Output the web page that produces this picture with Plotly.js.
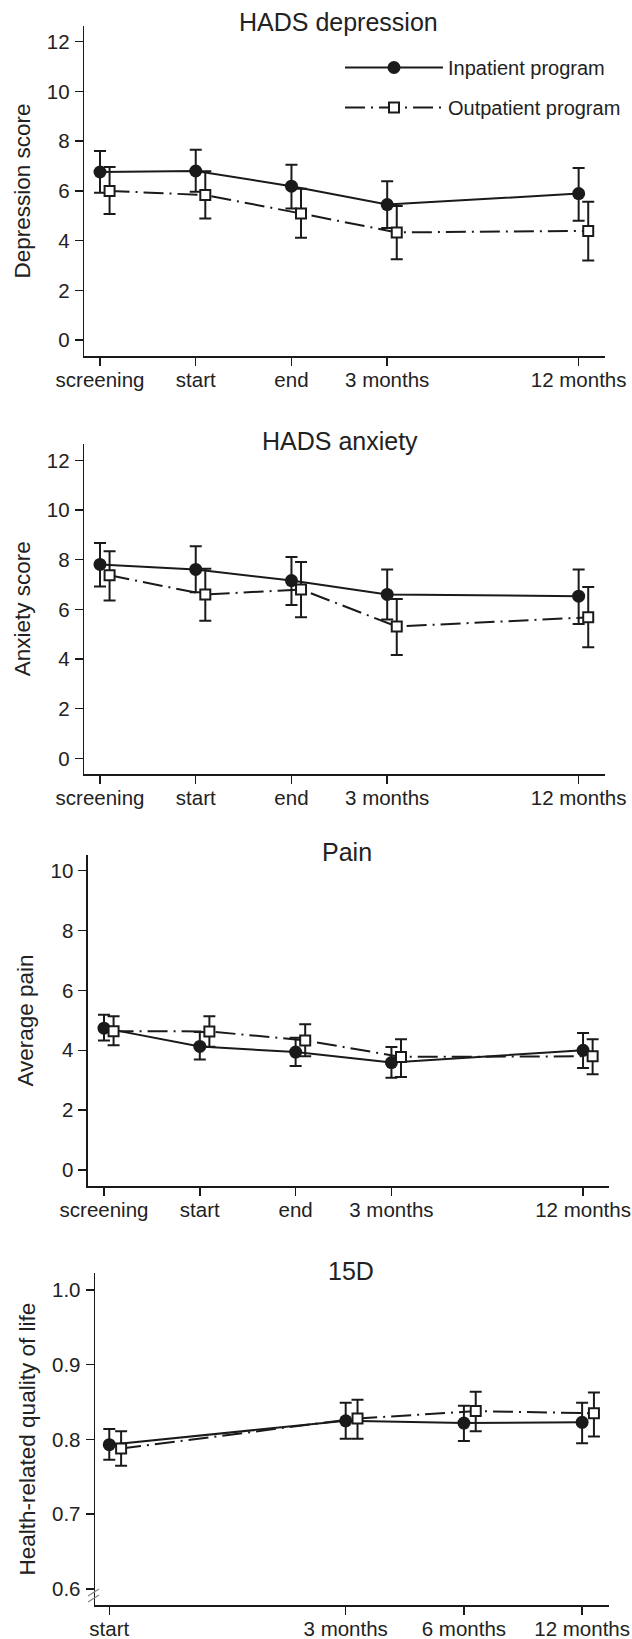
<!DOCTYPE html>
<html><head><meta charset="utf-8">
<script src="https://cdn.plot.ly/plotly-3.0.1.min.js"></script>
<style>html,body{margin:0;padding:0;background:#fff}#chart{width:632px;height:1639px}</style>
</head><body><div id="chart"></div>
<script>
// ---- data ----
const timeLabels = ["screening", "start", "end", "3 months", "12 months"];
const timePos = [0, 1, 2, 3, 5];
const qolLabels = ["start", "3 months", "6 months", "12 months"];
const qolPos = [0, 2, 3, 4];
const seriesNames = ["Inpatient program", "Outpatient program"];
const panelTitles = ["HADS depression", "HADS anxiety", "Pain", "15D"];
const yTitles = ["Depression score", "Anxiety score", "Average pain", "Health-related quality of life"];

const depIn = [6.76, 6.80, 6.19, 5.45, 5.89];
const depInLo = [5.92, 5.96, 5.29, 4.51, 4.80];
const depInHi = [7.60, 7.65, 7.05, 6.39, 6.92];
const depOut = [6.00, 5.83, 5.09, 4.33, 4.39];
const depOutLo = [5.07, 4.89, 4.12, 3.25, 3.20];
const depOutHi = [6.96, 6.79, 6.09, 5.39, 5.56];

const anxIn = [7.81, 7.61, 7.16, 6.60, 6.53];
const anxInLo = [6.92, 6.69, 6.18, 5.59, 5.41];
const anxInHi = [8.67, 8.54, 8.11, 7.61, 7.61];
const anxOut = [7.37, 6.60, 6.80, 5.31, 5.68];
const anxOutLo = [6.36, 5.54, 5.68, 4.16, 4.47];
const anxOutHi = [8.34, 7.64, 7.91, 6.42, 6.90];

const painIn = [4.74, 4.13, 3.94, 3.59, 4.00];
const painInLo = [4.33, 3.69, 3.48, 3.08, 3.41];
const painInHi = [5.19, 4.61, 4.42, 4.11, 4.58];
const painOut = [4.64, 4.63, 4.33, 3.78, 3.80];
const painOutLo = [4.17, 4.12, 3.80, 3.11, 3.20];
const painOutHi = [5.14, 5.14, 4.87, 4.37, 4.37];

const qolIn = [0.793, 0.825, 0.822, 0.823];
const qolInLo = [0.773, 0.801, 0.798, 0.795];
const qolInHi = [0.814, 0.849, 0.845, 0.849];
const qolOut = [0.788, 0.828, 0.838, 0.835];
const qolOutLo = [0.765, 0.801, 0.811, 0.804];
const qolOutHi = [0.811, 0.853, 0.864, 0.863];

// ---- helpers ----
const W = 632, H = 1639;
const INK = '#1a1a1a';
const FONT = 'Liberation Sans, Arial, Helvetica, sans-serif';
const px = v => v / W;
const py = v => 1 - v / H;
const OFFSET = 0.1;

function errs(v, lo, hi, width) {
  return {type: 'data', symmetric: false,
    array: hi.map((h, i) => h - v[i]),
    arrayminus: lo.map((l, i) => v[i] - l),
    color: INK, thickness: 2, width: width};
}

function pair(n, pos, vin, lo1, hi1, vout, lo2, hi2, legend) {
  const xa = n === 1 ? 'x' : 'x' + n, ya = n === 1 ? 'y' : 'y' + n;
  return [
    {x: pos, y: vin, xaxis: xa, yaxis: ya, name: seriesNames[0], type: 'scatter',
     mode: 'lines+markers', showlegend: legend, legendgroup: 'a',
     line: {color: INK, width: 2},
     marker: {symbol: 'circle', size: 13, color: INK},
     error_y: errs(vin, lo1, hi1, 6), hoverinfo: 'skip'},
    {x: pos.map(p => p + OFFSET), y: vout, xaxis: xa, yaxis: ya, name: seriesNames[1], type: 'scatter',
     mode: 'lines+markers', showlegend: legend, legendgroup: 'b',
     line: {color: INK, width: 2, dash: '20px,6px,2px,6px'},
     marker: {symbol: 'square', size: 10, color: '#ffffff', line: {color: INK, width: 2}},
     error_y: errs(vout, lo2, hi2, 6), hoverinfo: 'skip'}
  ];
}

const traces = [].concat(
  pair(1, timePos, depIn, depInLo, depInHi, depOut, depOutLo, depOutHi, true),
  pair(2, timePos, anxIn, anxInLo, anxInHi, anxOut, anxOutLo, anxOutHi, false),
  pair(3, timePos, painIn, painInLo, painInHi, painOut, painOutLo, painOutHi, false),
  pair(4, qolPos, qolIn, qolInLo, qolInHi, qolOut, qolOutLo, qolOutHi, false)
);

function xax(domain, range, vals, text) {
  return {domain: domain, range: range, tickvals: vals, ticktext: text,
    showline: true, linecolor: INK, linewidth: 1.5, mirror: false,
    ticks: 'outside', ticklen: 8, tickwidth: 1.5, tickcolor: INK,
    showgrid: false, zeroline: false, fixedrange: true,
    tickfont: {family: FONT, size: 20.5, color: '#222'}, ticklabelstandoff: -3};
}
function yax(domain, range, dtick, title, fmt) {
  return {domain: domain, range: range, tick0: 0, dtick: dtick,
    showline: true, linecolor: INK, linewidth: 1.5, mirror: false,
    ticks: 'outside', ticklen: 8, tickwidth: 1.5, tickcolor: INK,
    showgrid: false, zeroline: false, fixedrange: true, tickformat: fmt,
    tickfont: {family: FONT, size: 20.5, color: '#222'}, ticklabelstandoff: 1,
    title: {text: title, font: {family: FONT, size: 22.5, color: '#222'}, standoff: 10}};
}

const xd12 = [px(84.2), px(604.5)];
const xd3 = [px(87.9), px(609.3)];
const xd4 = [px(95.1), px(609.3)];

const layout = {
  width: W, height: H,
  margin: {l: 0, r: 0, t: 0, b: 0},
  paper_bgcolor: '#fff', plot_bgcolor: '#fff',
  font: {family: FONT, color: '#222'},
  showlegend: true,
  legend: {x: px(340), y: py(48), xanchor: 'left', yanchor: 'top',
    font: {family: FONT, size: 20, color: '#222'}, bgcolor: 'rgba(0,0,0,0)',
    tracegroupgap: 11, itemwidth: 98, traceorder: 'grouped'},
  xaxis: xax(xd12, [-0.165, 5.27], timePos, timeLabels),
  yaxis: yax([py(356), py(26)], [-0.64, 12.63], 2, yTitles[0], 'd'),
  xaxis2: Object.assign(xax(xd12, [-0.165, 5.27], timePos, timeLabels), {anchor: 'y2'}),
  yaxis2: Object.assign(yax([py(774), py(443.5)], [-0.63, 12.68], 2, yTitles[1], 'd'), {anchor: 'x2'}),
  xaxis3: Object.assign(xax(xd3, [-0.168, 5.274], timePos, timeLabels), {anchor: 'y3'}),
  yaxis3: Object.assign(yax([py(1186), py(855)], [-0.53, 10.52], 2, yTitles[2], 'd'), {anchor: 'x3'}),
  xaxis4: Object.assign(xax(xd4, [-0.12, 4.23], qolPos, qolLabels), {anchor: 'y4'}),
  yaxis4: Object.assign(yax([py(1605), py(1273.3)], [0.5786, 1.0223], 0.1, yTitles[3], '.1f'), {anchor: 'x4', tick0: 0.6}),
  annotations: [
    [338, 22.5], [340, 440.8], [347, 851.5], [351, 1270.8]
  ].map((p, i) => ({text: panelTitles[i], xref: 'paper', yref: 'paper', x: px(p[0]), y: py(p[1]),
    xanchor: 'center', yanchor: 'middle', showarrow: false,
    font: {family: FONT, size: 25, color: '#222'}})),
  shapes: [
    {type: 'line', xref: 'paper', yref: 'paper', x0: px(88), y0: py(1596), x1: px(99), y1: py(1589), line: {color: '#888', width: 1.3}},
    {type: 'line', xref: 'paper', yref: 'paper', x0: px(88), y0: py(1602), x1: px(99), y1: py(1595), line: {color: '#888', width: 1.3}}
  ]
};

Plotly.newPlot('chart', traces, layout, {displayModeBar: false, staticPlot: true});
</script>
</body></html>
